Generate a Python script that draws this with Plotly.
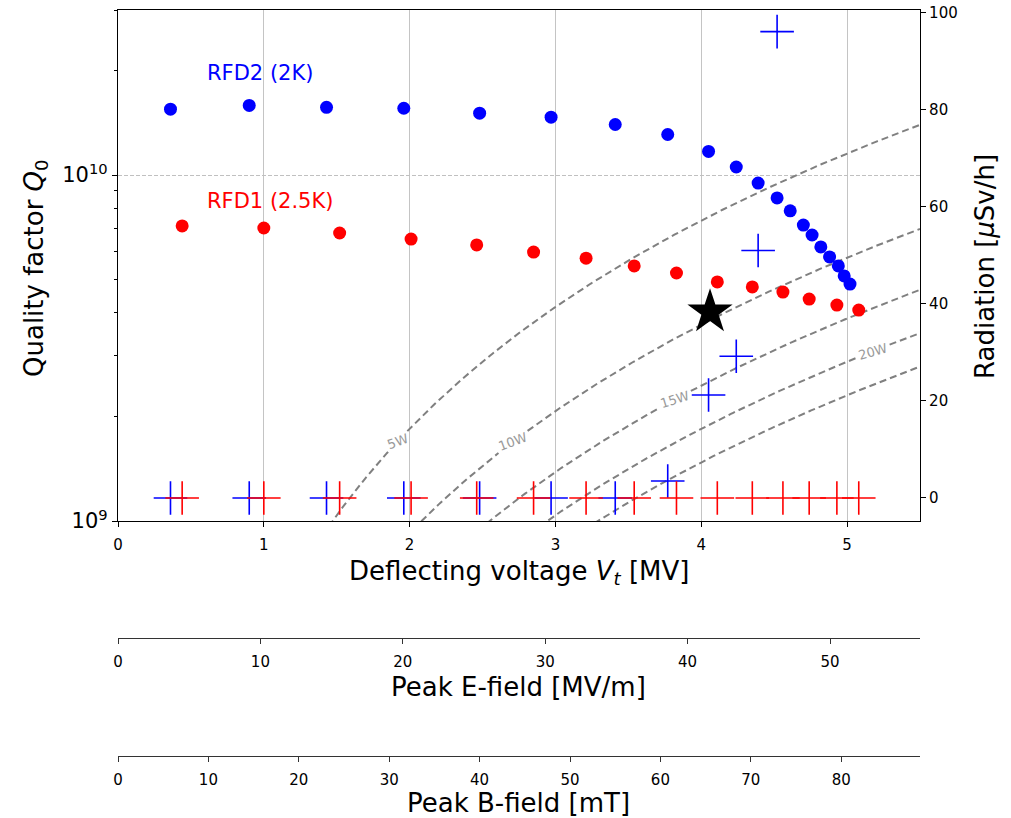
import numpy as np
import plotly.graph_objects as go

# ---------------- data ----------------
# RFD2 (2K): deflecting voltage [MV], Q0, radiation [uSv/h]
v_rfd2 = [0.36, 0.90, 1.43, 1.96, 2.48, 2.97, 3.41, 3.77, 4.05, 4.24, 4.39, 4.52,
          4.61, 4.70, 4.76, 4.82, 4.88, 4.94, 4.98, 5.02]
q_rfd2 = [1.55e10, 1.59e10, 1.57e10, 1.56e10, 1.51e10, 1.47e10, 1.40e10, 1.31e10,
          1.17e10, 1.055e10, 9.48e9, 8.59e9, 7.88e9, 7.17e9, 6.71e9, 6.20e9,
          5.80e9, 5.46e9, 5.11e9, 4.84e9]
rad_rfd2 = [0, 0, 0, 0, 0, 0, 0, 3.5, 21.2, 29.2, 51.0, 96.1]

# RFD1 (2.5K)
v_rfd1 = [0.44, 1.00, 1.52, 2.01, 2.46, 2.85, 3.21, 3.54, 3.83, 4.11, 4.35, 4.56,
          4.74, 4.93, 5.08]
q_rfd1 = [7.13e9, 7.03e9, 6.80e9, 6.53e9, 6.28e9, 5.99e9, 5.75e9, 5.46e9, 5.21e9,
          4.91e9, 4.75e9, 4.59e9, 4.38e9, 4.21e9, 4.07e9]
rad_rfd1 = [0] * 15

# design point (star)
v_star = [4.06]
q_star = [4.02e9]

# constant dissipated power lines: Q0 = Vt^2 / ((R/Q) * P)
r_over_q = 433.0            # Ohm
powers = [5, 10, 15, 20, 25]  # W
power_labels = ["5W", "10W", "15W", "20W", None]
label_v = [1.92, 2.71, 3.82, 5.18, None]
label_angle = [-20, -20, -17, -16, None]

# secondary scales
e_per_v = 10.24   # (MV/m) per MV
b_per_v = 16.13   # mT per MV
x_max = 5.5

e_ticks = [0, 10, 20, 30, 40, 50]
b_ticks = [0, 10, 20, 30, 40, 50, 60, 70, 80]
rad_ticks = [0, 20, 40, 60, 80, 100]
v_ticks = [0, 1, 2, 3, 4, 5]

# ---------------- figure ----------------
FONT = "DejaVu Sans"
W, H = 1011, 818
ML, MR, MT, MB = 118, 91, 10, 0
pw = W - ML - MR
ph = H - MT - MB


def py(y):
    """pixel row -> paper fraction"""
    return (H - MB - y) / ph


def px(x):
    return (x - ML) / pw


y_dom_bottom = py(521)
y_range = [9, np.log10(3e10)]
x_px_per_unit = pw / x_max
y_px_per_dec = (521 - 10) / (y_range[1] - y_range[0])

fig = go.Figure()

# constant power curves
vg = np.linspace(0.3, x_max, 600)
for P, lab, lv, ang in zip(powers, power_labels, label_v, label_angle):
    q = vg ** 2 * 1e12 / (r_over_q * P)
    qq = q.copy()
    if lv is not None:
        ql = lv ** 2 * 1e12 / (r_over_q * P)
        dx = (vg - lv) * x_px_per_unit
        dy = (np.log10(q) - np.log10(ql)) * y_px_per_dec
        gap = 12 if len(lab) == 2 else 17
        qq = np.where(np.hypot(dx, dy) < gap, np.nan, q)
        fig.add_annotation(x=lv, y=np.log10(ql), xref="x", yref="y", text=lab,
                           showarrow=False, textangle=ang,
                           font=dict(family=FONT, size=13, color="#9a9a9a"))
    fig.add_trace(go.Scatter(x=vg, y=qq, mode="lines", xaxis="x", yaxis="y",
                             line=dict(color="#808080", width=2, dash="7px,4px"),
                             showlegend=False, hoverinfo="skip", connectgaps=False))

fig.add_trace(go.Scatter(x=v_rfd2, y=q_rfd2, mode="markers", name="RFD2 Q0",
                         marker=dict(color="#0000ff", size=13), showlegend=False))
fig.add_trace(go.Scatter(x=v_rfd1, y=q_rfd1, mode="markers", name="RFD1 Q0",
                         marker=dict(color="#ff0000", size=13), showlegend=False))

fig.add_trace(go.Scatter(x=v_rfd2[:len(rad_rfd2)], y=rad_rfd2, mode="markers",
                         xaxis="x", yaxis="y2", showlegend=False,
                         marker=dict(symbol="cross-thin", size=24,
                                     line=dict(color="#0000ff", width=1.6))))
fig.add_trace(go.Scatter(x=v_rfd1, y=rad_rfd1, mode="markers",
                         xaxis="x", yaxis="y2", showlegend=False,
                         marker=dict(symbol="cross-thin", size=24,
                                     line=dict(color="#ff0000", width=1.6))))
fig.add_trace(go.Scatter(x=v_star, y=q_star, mode="markers",
                         xaxis="x", yaxis="y", showlegend=False,
                         marker=dict(symbol="star", size=34, color="black")))

# dummy traces to activate extra x axes
fig.add_trace(go.Scatter(x=[0], y=[None], xaxis="x3", yaxis="y", showlegend=False,
                         hoverinfo="skip"))
fig.add_trace(go.Scatter(x=[0], y=[None], xaxis="x4", yaxis="y", showlegend=False,
                         hoverinfo="skip"))

axis_common = dict(showline=True, linecolor="black", linewidth=1.2,
                   ticks="outside", ticklen=5, tickwidth=1.1, tickcolor="black",
                   zeroline=False, automargin=False, ticklabeloverflow="allow")

fig.update_layout(
    width=W, height=H,
    margin=dict(l=ML, r=MR, t=MT, b=MB, autoexpand=False),
    paper_bgcolor="white", plot_bgcolor="white",
    font=dict(family=FONT, color="black"),
    xaxis=dict(domain=[0, 1], range=[0, x_max], anchor="y", tickvals=v_ticks,
               mirror=True, showgrid=True, gridcolor="#c4c4c4", gridwidth=1,
               tickfont=dict(size=15), ticklabelstandoff=5, **axis_common),
    yaxis=dict(type="log", range=y_range, domain=[y_dom_bottom, 1], anchor="x",
               tickvals=[1e9, 1e10], ticktext=["10<sup>9</sup>", "10<sup>10</sup>"],
               tickfont=dict(size=21), mirror=True, showgrid=True,
               gridcolor="#c0c0c0", gridwidth=0.8, griddash="4px,2px",
               minor=dict(ticks="outside", ticklen=3, tickcolor="black",
                          tickvals=[2e9, 3e9, 4e9, 5e9, 6e9, 7e9, 8e9, 9e9, 2e10, 3e10],
                          showgrid=False),
               **axis_common),
    yaxis2=dict(overlaying="y", side="right", anchor="x", range=[-4.75, 100.55],
                tickvals=rad_ticks, showgrid=False, tickfont=dict(size=15),
                **axis_common),
    xaxis3=dict(overlaying="x", anchor="free", position=py(638), side="bottom",
                range=[0, x_max * e_per_v], tickvals=e_ticks, showgrid=False,
                tickfont=dict(size=15), showline=True, linecolor="#333333",
                linewidth=1.3, ticks="outside", ticklen=5, tickcolor="#333333",
                zeroline=False, ticklabelstandoff=5, automargin=False),
    xaxis4=dict(overlaying="x", anchor="free", position=py(756), side="bottom",
                range=[0, x_max * b_per_v], tickvals=b_ticks, showgrid=False,
                tickfont=dict(size=15), showline=True, linecolor="#333333",
                linewidth=1.3, ticks="outside", ticklen=5, tickcolor="#333333",
                zeroline=False, ticklabelstandoff=5, automargin=False),
)

TITLE = 26
titles = [
    ("Deflecting voltage <i>V</i><sub><i>t</i></sub> [MV]", px(519), py(572), 0),
    ("Peak E-field [MV/m]", px(518), py(687), 0),
    ("Peak B-field [mT]", px(518), py(803), 0),
    ("Quality factor <i>Q</i><sub>0</sub>", px(36), py(268), -90),
    ("Radiation [<i>μ</i>Sv/h]", px(985), py(266), -90),
]
for txt, x, y, ang in titles:
    fig.add_annotation(x=x, y=y, xref="paper", yref="paper", text=txt,
                       showarrow=False, textangle=ang, xanchor="center",
                       yanchor="middle", font=dict(family=FONT, size=TITLE))

fig.add_annotation(x=0.60, y=10.295, xref="x", yref="y", text="RFD2 (2K)",
                   showarrow=False, xanchor="left", yanchor="middle",
                   font=dict(family=FONT, size=21, color="#0000ff"))
fig.add_annotation(x=0.60, y=9.925, xref="x", yref="y", text="RFD1 (2.5K)",
                   showarrow=False, xanchor="left", yanchor="middle",
                   font=dict(family=FONT, size=21, color="#ff0000"))

fig.write_html("out.html",
               config={"displayModeBar": False},
               post_script="document.body.style.margin='0';"
                           "document.body.style.overflow='hidden';")
